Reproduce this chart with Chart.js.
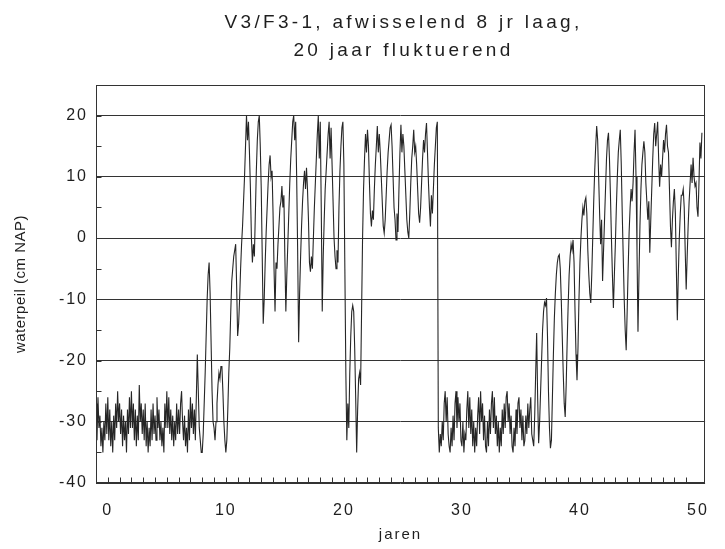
<!DOCTYPE html>
<html>
<head>
<meta charset="utf-8">
<title>waterpeil V3/F3-1</title>
<script src="https://cdn.jsdelivr.net/npm/chart.js@4/dist/chart.umd.min.js"></script>
<style>
  html, body { margin: 0; padding: 0; background: #fff; }
</style>
</head>
<body>
<canvas id="peil" width="725" height="549"></canvas>
<script>
// Waterpeil (cm NAP), maandwaarden per fase
const maandenPerJaar = 12;

// 8 jaar laag
const laag1Start = -1;
const laag1 = [
  -27, -33, -26, -31, -29, -34, -31, -35, -30, -33, -27, -32,
  -26, -33, -28, -34, -30, -35, -29, -33, -27, -31, -25, -30,
  -27, -32, -28, -34, -29, -33, -30, -35, -28, -32, -26, -31,
  -25, -31, -27, -33, -28, -34, -29, -33, -24, -30, -27, -32,
  -28, -33, -27, -34, -30, -35, -31, -34, -28, -33, -27, -32,
  -29, -33, -26, -31, -28, -33, -30, -34, -31, -35, -27, -31,
  -25, -31, -26, -32, -28, -33, -29, -34, -30, -33, -27, -32,
  -28, -32, -27, -25, -30, -33, -29, -34, -31, -35, -28, -33,
  -26, -31, -27, -32, -28, -33, -26, -19, -25, -31, -33, -35
];

// 20 jaar fluktuerend
const fluct1Start = 8;
const fluct1 = [
  -35, -32, -27, -22, -16, -10, -6, -4, -9, -17, -25, -30,
  -31, -33, -30, -27, -24, -22, -23, -21, -21, -25, -30, -33,
  -35, -33, -28, -22, -18, -12, -7, -5, -3, -2, -1, -8,
  -16, -14, -10, -5, -1, 2, 6, 10, 15, 20, 16, 19,
  14, 8, 0, -4, -1, -3, 4, 11, 16, 19, 20, 15,
  8, -3, -14, -10, -4, 1, 5, 9, 12, 13.5, 10, 11,
  4, -5, -12, -4, -5, -1, 2, 5, 6, 8.5, 5, 7,
  -3, -12, -6, -1, 4, 9, 13, 16, 19, 20, 16, 19,
  10, -2, -17, -9, -3, 2, 6, 9, 11, 8, 11.5, 8,
  3, -4, -5.5, -3, -5, 0, 5, 9, 13, 17, 20, 13,
  19, 5, -12, -3, 3, 8, 11, 14, 17, 19, 13, 18,
  12, 6, 0, -3, -5, -2, -4, 5, 11, 15, 18, 19,
  12, -5, -22, -33, -27, -31, -22, -16, -12, -11, -12, -18,
  -26, -35, -28, -23, -22, -24, -12, 0, 8, 13, 17, 14,
  17.7, 15, 9, 4, 1.9, 4.5, 3, 8, 12, 15, 18.3, 14,
  17, 14, 10, 6, 2, 0.8, 3, 7, 11, 14, 16, 18,
  18.5, 15, 10, 5, 3, -0.3, 4, 1, 8, 14, 18.5, 14,
  17, 15, 11, 7, 3, 1, 0, 4, 9, 13, 15, 17.7,
  14, 15, 12, 8, 4, 2.5, 5, 9, 13, 16, 14, 17,
  18.8, 14, 9, 5, 1.9, 7, 4, 8, 12, 15, 18, 19
];

// 8 jaar laag
const laag2Start = 28;
const laag2 = [
  -31, -35, -32, -34, -30, -33, -27, -25, -30, -26, -32, -34,
  -35, -31, -34, -29, -33, -27, -25, -31, -26, -30, -27, -33,
  -34, -30, -35, -32, -33, -28, -25, -31, -26, -32, -28, -34,
  -30, -35, -31, -34, -29, -26, -32, -25, -30, -27, -33, -29,
  -34, -35, -30, -34, -28, -32, -27, -25, -31, -26, -32, -29,
  -34, -30, -35, -31, -34, -28, -32, -27, -31, -26, -25, -30,
  -27, -32, -29, -34, -35, -31, -34, -28, -32, -27, -26, -31,
  -28, -33, -29, -34, -33, -29, -32, -27, -31, -28, -26, -32
];

// weer fluktuerend
const fluct2Start = 36;
const fluct2 = [
  -33, -34, -29, -22, -15.5, -26, -33.5, -30, -25, -20, -15, -12,
  -10.5, -11, -9.8, -16, -25, -31, -34.3, -33, -26, -19, -13, -9,
  -6, -4, -3, -2.7, -5, -10, -16, -22, -27, -29.2, -24, -17,
  -11, -6, -3, -1, -2, -0.3, -4, -12, -19, -23.2, -18, -10,
  -4, 0, 3, 5, 3.7, 6, 6.6, 4, -2, -6, -9, -10.6,
  -6, 0, 6, 11, 15, 18.3, 16, 10, 4, -1, 3, -7,
  -2, 3, 8, 13, 16, 17.2, 13, 7, 0, -6, -11.4, -6,
  -1, 5, 10, 14, 16, 17.7, 12, 4, -3, -10, -15, -18.3,
  -12, -5, 1, 5, 8, 6, 9, 14, 17.7, 10, -2, -15.3,
  -6, 2, 8, 12, 14, 15.8, 14, 9, 6, 3, 6, -2.4,
  3, 8, 13, 17, 18.8, 15, 17, 19, 13, 8.4, 12, 10,
  13, 16, 14, 17, 18.5, 15, 14, 8, 2, -1.5, 3, 6,
  8, 4, -5, -13.4, -6, 0, 4, 7, 7, 8, 5, -2,
  -8.4, -3, 2, 6, 9, 12, 9, 13.1, 10, 8.5, 9, 5,
  3.5, 9, 15.6, 13, 17.2
];

const jarenTicks = [0, 10, 20, 30, 40, 50];
const peilTicks = [-40, -30, -20, -10, 0, 10, 20];
const titel = ['V3/F3-1, afwisselend 8 jr laag,', '20 jaar fluktuerend'];
const yTitel = 'waterpeil (cm NAP)';

function reeks(start, waarden) {
  return waarden.map((v, i) => ({ x: start + i / maandenPerJaar, y: v }));
}

const punten = [].concat(
  reeks(laag1Start, laag1),
  reeks(fluct1Start, fluct1),
  reeks(laag2Start, laag2),
  reeks(fluct2Start, fluct2)
);

const lijnKleur = '#262626';
const tekstKleur = '#1e1e1e';
const fontFam = '"Liberation Sans", Arial, Helvetica, sans-serif';

// kader, kleine streepjes op de assen en de titels
const kaderPlugin = {
  id: 'kader',
  beforeDraw(chart) {
    chart.ctx.letterSpacing = '2px';
  },
  afterDatasetsDraw(chart) {
    const { ctx, chartArea: a, scales } = chart;
    ctx.save();
    ctx.strokeStyle = '#333';
    ctx.lineWidth = 1;
    const l = Math.round(a.left) + 0.5, r = Math.round(a.right) - 0.5;
    const t = Math.round(a.top) + 0.5, b = Math.round(a.bottom) - 0.5;
    ctx.strokeRect(l, t, r - l, b - t);
    ctx.beginPath();
    for (let v = -40; v <= 20; v += 5) {
      const y = Math.round(scales.y.getPixelForValue(v)) + 0.5;
      ctx.moveTo(l, y);
      ctx.lineTo(l + 5, y);
    }
    for (let j = 0; j <= 49; j++) {
      const x = Math.round(scales.x.getPixelForValue(j)) + 0.5;
      ctx.moveTo(x, b);
      ctx.lineTo(x, b - 5);
    }
    ctx.stroke();
    ctx.restore();
  },
  afterDraw(chart) {
    const { ctx, chartArea: a } = chart;
    ctx.save();
    ctx.fillStyle = tekstKleur;
    ctx.textAlign = 'center';
    ctx.textBaseline = 'middle';
    ctx.font = '19px ' + fontFam;
    ctx.letterSpacing = '3.3px';
    const cx = (a.left + a.right) / 2 + 3;
    titel.forEach((regel, i) => ctx.fillText(regel, cx, 23 + i * 28));
    ctx.letterSpacing = '0.5px';
    ctx.font = '15px ' + fontFam;
    ctx.translate(21, (a.top + a.bottom) / 2);
    ctx.rotate(-Math.PI / 2);
    ctx.fillText(yTitel, 0, 0);
    ctx.restore();
  }
};

new Chart(document.getElementById('peil'), {
  type: 'line',
  data: {
    datasets: [{
      data: punten,
      borderColor: lijnKleur,
      borderWidth: 1.1,
      pointRadius: 0,
      tension: 0,
      fill: false
    }]
  },
  options: {
    responsive: false,
    animation: false,
    devicePixelRatio: 1,
    layout: { padding: { top: 85, right: 10, left: 0, bottom: 0 } },
    plugins: {
      legend: { display: false },
      title: { display: false },
      tooltip: { enabled: false }
    },
    scales: {
      x: {
        type: 'linear',
        min: -1,
        max: 50.6,
        afterBuildTicks: (scale) => { scale.ticks = jarenTicks.map(v => ({ value: v })); },
        afterFit: (scale) => { scale.height = 66; },
        ticks: {
          color: tekstKleur,
          font: { family: fontFam, size: 16 },
          padding: 18,
          maxRotation: 0,
          autoSkip: false
        },
        grid: { display: false, drawTicks: false },
        border: { display: false },
        title: {
          display: true,
          text: 'jaren',
          color: tekstKleur,
          font: { family: fontFam, size: 15 },
          padding: { top: 0, bottom: 5 }
        }
      },
      y: {
        min: -40,
        max: 25,
        afterBuildTicks: (scale) => { scale.ticks = peilTicks.map(v => ({ value: v })); },
        afterFit: (scale) => { scale.width = 96; },
        ticks: {
          color: tekstKleur,
          font: { family: fontFam, size: 16 },
          padding: 8
        },
        grid: { color: '#333', lineWidth: 1, drawTicks: false },
        border: { display: false }
      }
    }
  },
  plugins: [kaderPlugin]
});
</script>
</body>
</html>
